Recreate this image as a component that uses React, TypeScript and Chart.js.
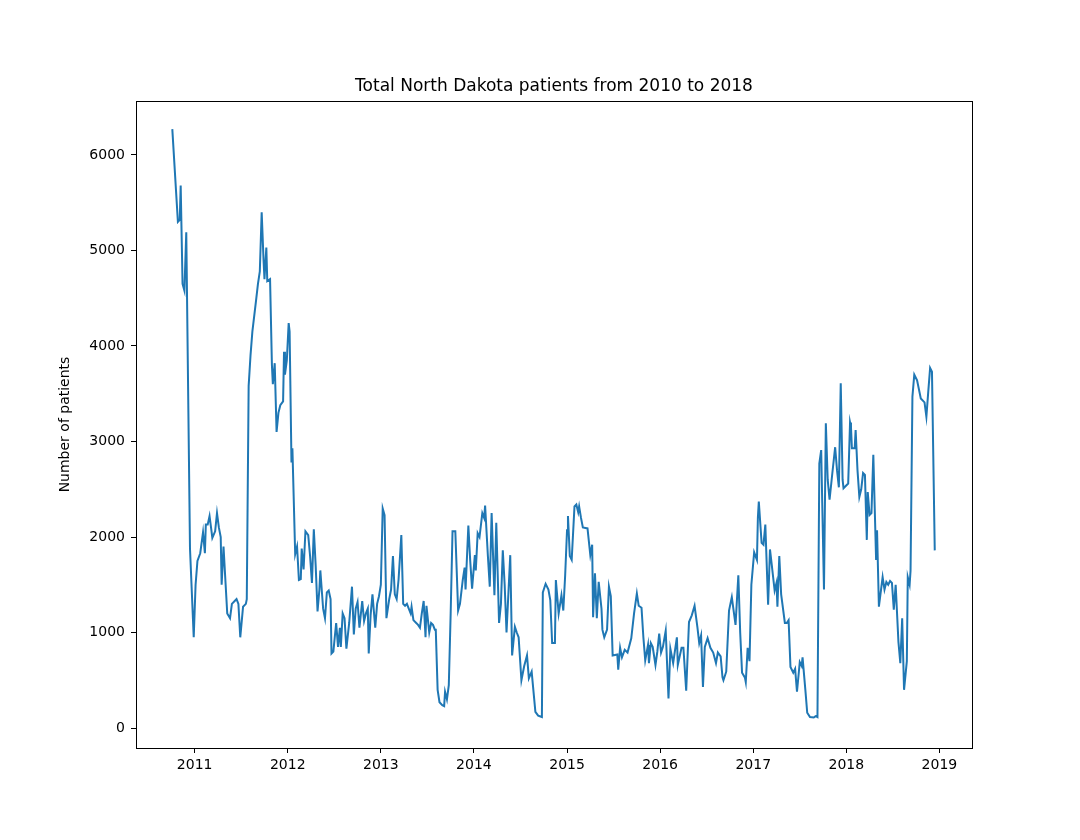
import { useEffect, useRef } from "react";
import { Chart, registerables } from "chart.js";

Chart.register(...registerables);

// decimal years (sample dates) and total patients
const years: number[] = [
  2010.76, 2010.82, 2010.84, 2010.85, 2010.87, 2010.89, 2010.91, 2010.95, 2010.99, 2011.01,
  2011.03, 2011.06, 2011.09, 2011.11, 2011.12, 2011.14, 2011.16, 2011.18, 2011.19, 2011.22,
  2011.24, 2011.26, 2011.28, 2011.29, 2011.31, 2011.33, 2011.35, 2011.38, 2011.4, 2011.43,
  2011.45, 2011.47, 2011.49, 2011.52, 2011.55, 2011.56, 2011.58, 2011.6, 2011.62, 2011.66,
  2011.68, 2011.7, 2011.72, 2011.74, 2011.75, 2011.77, 2011.78, 2011.81, 2011.83, 2011.84,
  2011.86, 2011.88, 2011.9, 2011.92, 2011.95, 2011.96, 2011.97, 2011.99, 2012.01, 2012.02,
  2012.04, 2012.05, 2012.08, 2012.1, 2012.12, 2012.14, 2012.15, 2012.17, 2012.19, 2012.22,
  2012.24, 2012.26, 2012.28, 2012.3, 2012.32, 2012.34, 2012.35, 2012.38, 2012.4, 2012.42,
  2012.44, 2012.46, 2012.47, 2012.49, 2012.52, 2012.54, 2012.56, 2012.57, 2012.59, 2012.61,
  2012.63, 2012.66, 2012.69, 2012.71, 2012.73, 2012.75, 2012.77, 2012.8, 2012.82, 2012.84,
  2012.86, 2012.87, 2012.89, 2012.91, 2012.94, 2012.96, 2012.98, 2013.0, 2013.02, 2013.04,
  2013.06, 2013.09, 2013.11, 2013.13, 2013.15, 2013.17, 2013.19, 2013.22, 2013.24, 2013.26,
  2013.28, 2013.3, 2013.32, 2013.33, 2013.35, 2013.38, 2013.4, 2013.42, 2013.44, 2013.46,
  2013.48, 2013.49, 2013.52, 2013.54, 2013.56, 2013.58, 2013.59, 2013.61, 2013.63, 2013.66,
  2013.68, 2013.69, 2013.71, 2013.73, 2013.75, 2013.77, 2013.8, 2013.83, 2013.85, 2013.88,
  2013.9, 2013.91, 2013.94, 2013.96, 2013.98, 2014.01, 2014.02, 2014.04, 2014.06, 2014.09,
  2014.11, 2014.12, 2014.15, 2014.17, 2014.19, 2014.22, 2014.24, 2014.27, 2014.29, 2014.31,
  2014.33, 2014.35, 2014.39, 2014.41, 2014.44, 2014.46, 2014.48, 2014.51, 2014.54, 2014.57,
  2014.59, 2014.62, 2014.66, 2014.69, 2014.73, 2014.74, 2014.77, 2014.8, 2014.82, 2014.84,
  2014.87, 2014.88, 2014.91, 2014.94, 2014.96, 2014.98, 2015.0, 2015.01, 2015.03, 2015.05,
  2015.08, 2015.1, 2015.12, 2015.13, 2015.15, 2015.17, 2015.22, 2015.25, 2015.27, 2015.28,
  2015.3, 2015.32, 2015.34, 2015.37, 2015.38, 2015.4, 2015.43, 2015.45, 2015.47, 2015.49,
  2015.54, 2015.55, 2015.57, 2015.59, 2015.62, 2015.65, 2015.69, 2015.72, 2015.75, 2015.77,
  2015.8, 2015.82, 2015.84, 2015.87, 2015.88, 2015.9, 2015.92, 2015.95, 2015.97, 2015.99,
  2016.01, 2016.03, 2016.06, 2016.09, 2016.11, 2016.14, 2016.18, 2016.19, 2016.23, 2016.25,
  2016.28, 2016.31, 2016.34, 2016.37, 2016.4, 2016.42, 2016.44, 2016.46, 2016.48, 2016.51,
  2016.54, 2016.57, 2016.6, 2016.62, 2016.65, 2016.67, 2016.68, 2016.71, 2016.74, 2016.77,
  2016.81, 2016.84, 2016.86, 2016.88, 2016.91, 2016.92, 2016.94, 2016.96, 2016.98, 2017.01,
  2017.04, 2017.05, 2017.06, 2017.09, 2017.11, 2017.13, 2017.16, 2017.18, 2017.2, 2017.23,
  2017.25, 2017.26, 2017.28, 2017.3, 2017.34, 2017.36, 2017.38, 2017.4, 2017.43, 2017.45,
  2017.47, 2017.5, 2017.52, 2017.53, 2017.56, 2017.58, 2017.61, 2017.65, 2017.67, 2017.69,
  2017.71, 2017.73, 2017.76, 2017.78, 2017.8, 2017.82, 2017.85, 2017.88, 2017.9, 2017.92,
  2017.94, 2017.96, 2017.97, 2018.02, 2018.04, 2018.05, 2018.06, 2018.09, 2018.1, 2018.12,
  2018.14, 2018.16, 2018.18, 2018.2, 2018.22, 2018.23, 2018.25, 2018.27, 2018.29, 2018.32,
  2018.33, 2018.35, 2018.39, 2018.41, 2018.43, 2018.45, 2018.47, 2018.49, 2018.51, 2018.53,
  2018.56, 2018.58, 2018.6, 2018.62, 2018.65, 2018.66, 2018.68, 2018.69, 2018.71, 2018.73,
  2018.76, 2018.8, 2018.84, 2018.86, 2018.88, 2018.9, 2018.92, 2018.95,
];

const patients: number[] = [
  6270, 5300, 5320, 5680, 4650, 4580, 5190, 1880, 950, 1500,
  1750, 1830, 2050, 1830, 2130, 2130, 2220, 2070, 1990, 2060,
  2250, 2100, 2000, 1500, 1900, 1550, 1200, 1150, 1300, 1330,
  1350, 1300, 950, 1270, 1300, 1350, 3580, 3900, 4150, 4480,
  4650, 4780, 5400, 4900, 4700, 5030, 4680, 4700, 3800, 3600,
  3820, 3100, 3300, 3380, 3420, 3940, 3700, 3850, 4240, 4150,
  2780, 2930, 1820, 1900, 1550, 1560, 1880, 1660, 2060, 2020,
  1800, 1520, 2080, 1700, 1220, 1450, 1650, 1250, 1150, 1420,
  1440, 1350, 780, 800, 1100, 850, 1050, 850, 1200, 1150,
  830, 1100, 1480, 980, 1250, 1320, 1050, 1330, 1120, 1200,
  1250, 780, 1180, 1400, 1050, 1300, 1380, 1500, 2300, 2230,
  1150, 1350, 1450, 1800, 1400, 1350, 1550, 2020, 1300, 1280,
  1300, 1250, 1200, 1270, 1130, 1100, 1080, 1050, 1200, 1330,
  950, 1280, 1000, 1100, 1080, 1030, 1030, 400, 270, 240,
  230, 380, 300, 450, 1200, 2060, 2060, 1230, 1300, 1550,
  1680, 1450, 2120, 1750, 1460, 1810, 1650, 2040, 2000, 2250,
  2200, 2330, 1800, 1480, 2250, 1390, 2150, 1100, 1300, 1860,
  1500, 1000, 1810, 760, 1060, 1000, 950, 500, 650, 760,
  520, 590, 170, 130, 115, 1420, 1510, 1450, 1340, 890,
  890, 1550, 1200, 1390, 1230, 1600, 2070, 2220, 1800, 1760,
  2320, 2340, 2260, 2320, 2200, 2100, 2090, 1810, 1920, 1160,
  1620, 1150, 1530, 1250, 1030, 950, 1030, 1480, 1380, 760,
  770, 610, 840, 740, 820, 790, 940, 1200, 1410, 1280,
  1260, 950, 710, 870, 680, 890, 850, 660, 800, 990,
  790, 850, 1020, 310, 830, 680, 950, 660, 840, 840,
  390, 1110, 1180, 1280, 1060, 890, 970, 430, 850, 940,
  840, 790, 680, 790, 750, 530, 500, 590, 1230, 1370,
  1080, 1600, 1000, 580, 530, 480, 840, 700, 1500, 1840,
  1760, 2200, 2370, 1940, 1920, 2130, 1290, 1870, 1700, 1440,
  1520, 1270, 1800, 1400, 1100, 1100, 1130, 640, 580, 620,
  380, 690, 650, 740, 400, 160, 115, 110, 125, 115,
  2770, 2910, 1450, 3190, 2600, 2390, 2670, 2940, 2700, 2520,
  3610, 2600, 2510, 2560, 3200, 3150, 2930, 2930, 3120, 2700,
  2420, 2500, 2670, 2650, 1970, 2470, 2230, 2250, 2860, 1760,
  2070, 1270, 1580, 1450, 1530, 1500, 1540, 1520, 1240, 1500,
  900, 680, 1150, 400, 700, 1580, 1500, 1650, 3470, 3700,
  3640, 3450, 3410, 3260, 3520, 3770, 3730, 1860,
];

const xTicks: number[] = [2011, 2012, 2013, 2014, 2015, 2016, 2017, 2018, 2019];
const yTicks: number[] = [0, 1000, 2000, 3000, 4000, 5000, 6000];

const FONT = "'DejaVu Sans', sans-serif";

const framePlugin = {
  id: "frame",
  afterDraw(chart: Chart) {
    const { ctx, chartArea: a } = chart;
    ctx.save();
    ctx.strokeStyle = "#000";
    ctx.lineWidth = 1;
    ctx.strokeRect(a.left + 0.5, a.top + 0.5, a.right - a.left, a.bottom - a.top);
    ctx.fillStyle = "#000";
    ctx.font = `17px ${FONT}`;
    ctx.textAlign = "center";
    ctx.textBaseline = "bottom";
    ctx.fillText("Total North Dakota patients from 2010 to 2018", (a.left + a.right) / 2, a.top - 6);
    ctx.font = `14px ${FONT}`;
    ctx.translate(65, (a.top + a.bottom) / 2);
    ctx.rotate(-Math.PI / 2);
    ctx.textBaseline = "middle";
    ctx.fillText("Number of patients", 0, 0);
    ctx.restore();
  },
};

export default function App() {
  const canvasRef = useRef<HTMLCanvasElement | null>(null);

  useEffect(() => {
    const canvas = canvasRef.current;
    if (!canvas) return;
    document.body.style.margin = "0";

    const chart = new Chart(canvas, {
      type: "line",
      data: {
        datasets: [
          {
            data: years.map((y, i) => ({ x: y, y: patients[i] })),
            borderColor: "#1f77b4",
            borderWidth: 2,
            pointRadius: 0,
            tension: 0,
          },
        ],
      },
      options: {
        animation: false,
        responsive: false,
        layout: { padding: { left: 0, top: 101, right: 108, bottom: 0 } },
        plugins: { legend: { display: false }, tooltip: { enabled: false } },
        scales: {
          x: {
            type: "linear",
            min: 2010.37,
            max: 2019.35,
            afterBuildTicks: (s: any) => {
              s.ticks = xTicks.map((v) => ({ value: v }));
            },
            afterFit: (s: any) => {
              s.height = 92;
            },
            grid: { drawOnChartArea: false, tickLength: 5, color: "#000" },
            border: { display: false },
            ticks: {
              color: "#000",
              font: { family: FONT, size: 14 },
              padding: 4,
              maxRotation: 0,
              autoSkip: false,
              callback: (v: any) => String(v),
            },
          },
          y: {
            min: -209,
            max: 6565,
            afterBuildTicks: (s: any) => {
              s.ticks = yTicks.map((v) => ({ value: v }));
            },
            afterFit: (s: any) => {
              s.width = 136;
            },
            grid: { drawOnChartArea: false, tickLength: 5, color: "#000" },
            border: { display: false },
            ticks: {
              color: "#000",
              font: { family: FONT, size: 14 },
              padding: 6,
              autoSkip: false,
              callback: (v: any) => String(v),
            },
          },
        },
      },
      plugins: [framePlugin],
    });

    return () => chart.destroy();
  }, []);

  return <canvas ref={canvasRef} width={1080} height={840} style={{ display: "block" }} />;
}
